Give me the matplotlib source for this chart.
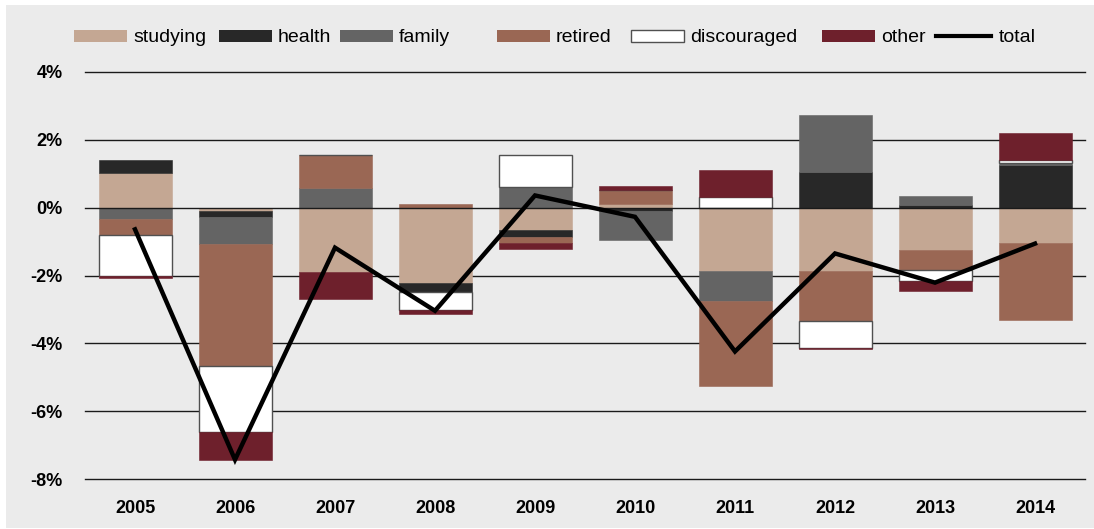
import matplotlib
matplotlib.use('Agg')
import matplotlib.pyplot as plt
import numpy as np
from matplotlib.patches import Rectangle
from matplotlib.lines import Line2D

years = ['2005', '2006', '2007', '2008', '2009', '2010', '2011', '2012', '2013', '2014']

# contributions in percentage points
studying = [1.03, -0.10, -1.89, -2.22, -0.65, 0.10, -1.87, -1.87, -1.26, -1.03]
health = [0.37, -0.18, 0.00, -0.26, -0.22, -0.10, 0.00, 1.05, 0.08, 1.25]
family = [-0.32, -0.80, 0.59, 0.00, 0.62, -0.84, -0.87, 1.68, 0.27, 0.08]
retired = [-0.49, -3.59, 0.96, 0.10, -0.18, 0.41, -2.53, -1.48, -0.57, -2.28]
discouraged = [-1.20, -1.93, 0.00, -0.55, 0.93, 0.00, 0.31, -0.78, -0.32, 0.09]
other = [-0.07, -0.83, -0.80, -0.10, -0.17, 0.12, 0.80, -0.05, -0.32, 0.79]
total = [-0.64, -7.43, -1.18, -3.04, 0.36, -0.27, -4.24, -1.35, -2.21, -1.06]

series = [
    ('studying', studying, '#c4a793', '#c4a793'),
    ('health', health, '#282828', '#282828'),
    ('family', family, '#646464', '#646464'),
    ('retired', retired, '#9a6754', '#9a6754'),
    ('discouraged', discouraged, '#ffffff', '#505050'),
    ('other', other, '#6e202c', '#6e202c'),
]

plt.rcParams['font.family'] = ['Liberation Sans', 'DejaVu Sans']
BG = '#ebebeb'
W, H = 1094, 529

fig = plt.figure(figsize=(10.94, 5.29), dpi=100, facecolor='white')
fig.patches.append(Rectangle((6/W, 1/H), 1088/W, 523/H, transform=fig.transFigure,
                             facecolor=BG, edgecolor='none', zorder=-10))
ax = fig.add_axes([85/W, 50/H, 1000/W, 407/H])
ax.patch.set_alpha(0)

x = np.arange(len(years))
pos = np.zeros(len(years))
neg = np.zeros(len(years))
for name, vals, fc, ec in series:
    v = np.array(vals)
    bottom = np.where(v >= 0, pos, neg)
    lw = 1.0 if name == 'discouraged' else 0.4
    ax.bar(x, v, 0.73, bottom=bottom, color=fc, edgecolor=ec, linewidth=lw, zorder=2)
    pos += np.where(v > 0, v, 0)
    neg += np.where(v < 0, v, 0)

ax.plot(x, total, color='black', lw=3.2, zorder=5, solid_joinstyle='miter')

ax.set_xlim(-0.5, 9.5)
ax.set_ylim(-8, 4)
ax.set_yticks(np.arange(-8, 5, 2))
ax.set_yticklabels([f'{t}%' for t in range(-8, 5, 2)], fontweight='bold', fontsize=13)
ax.set_xticks(x)
ax.set_xticklabels(years, fontweight='bold', fontsize=13)
ax.tick_params(axis='y', length=0, pad=16)
ax.tick_params(axis='x', length=0, pad=15)
for s in ax.spines.values():
    s.set_visible(False)
for t in np.arange(-8, 5, 2):
    ax.axhline(t, color='#1a1a1a', lw=1.0, zorder=1 if t != 0 else 3, clip_on=False)

# legend drawn by hand so the uneven spacing of the original is kept
leg_x = [74, 219, 340, 497, 631, 822]
ly = 36
for (name, _, fc, ec), px in zip(series, leg_x):
    lw = 1.0 if name == 'discouraged' else 0
    fig.patches.append(Rectangle((px/W, 1 - (ly + 5.8)/H), 53/W, 11.6/H, transform=fig.transFigure,
                                 facecolor=fc, edgecolor=ec, linewidth=lw))
    fig.text((px + 59)/W, 1 - ly/H, name, fontsize=14, va='center_baseline', ha='left')
fig.lines.append(Line2D([936/W, 991/W], [1 - ly/H, 1 - ly/H], transform=fig.transFigure,
                        color='black', lw=3))
fig.text(999/W, 1 - ly/H, 'total', fontsize=14, va='center_baseline', ha='left')

fig.savefig('out.png', dpi=100, facecolor='white')
